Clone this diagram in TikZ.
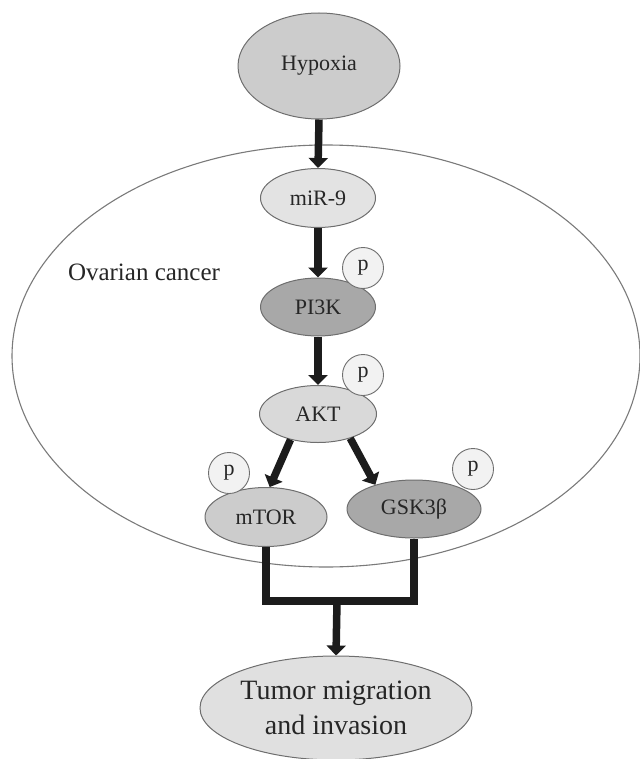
\documentclass[tikz,border=0pt]{standalone}
\usepackage{fontspec}
\setmainfont{Liberation Serif}
\usetikzlibrary{arrows.meta,shapes.geometric}
\definecolor{edgegray}{HTML}{6E6E6E}
\definecolor{cellgray}{HTML}{7A7A7A}
\definecolor{arrowblack}{HTML}{1C1C1C}
\tikzset{
  molecule/.style={ellipse, draw=edgegray, line width=1pt, inner sep=0pt, font=\fontsize{22}{26}\selectfont, text=black!85},
  phos/.style={circle, draw=edgegray, line width=0.9pt, fill=black!5, minimum size=41pt, inner sep=0pt, font=\fontsize{22}{26}\selectfont, text=black!85},
  bigarrow/.style={draw=arrowblack, line width=7.5pt, -{Triangle[length=10pt,width=19pt]}},
  joinline/.style={draw=arrowblack, line width=7.5pt, line join=miter},
}
\begin{document}
\begin{tikzpicture}[x=1pt,y=-1pt]
\useasboundingbox (0,0) rectangle (639,759);
% cell
\node[ellipse, draw=cellgray, line width=1.1pt, minimum width=628pt, minimum height=422pt, inner sep=0pt] (cell) at (326,356) {};
\node[font=\fontsize{25}{29}\selectfont, text=black!85] (celllabel) at (144,272) {Ovarian cancer};
% molecules
\node[molecule, fill=black!20, minimum width=162pt, minimum height=106pt] (hyp) at (319,66) {Hypoxia};
\node[molecule, fill=black!11, minimum width=115pt, minimum height=59pt] (mir) at (318,198) {miR-9};
\node[molecule, fill=black!34, minimum width=115pt, minimum height=58pt] (pik) at (318,307) {PI3K};
\node[molecule, fill=black!15, minimum width=117pt, minimum height=57pt] (akt) at (318,414) {AKT};
\node[molecule, fill=black!20, minimum width=122pt, minimum height=59pt] (mtor) at (266,517) {mTOR};
\node[molecule, fill=black!34, minimum width=134pt, minimum height=58pt] (gsk) at (414,509) {GSK3β};
\node[molecule, fill=black!12, minimum width=272pt, minimum height=104pt, align=center, font=\fontsize{28}{35}\selectfont] (tumor) at (336,708) {Tumor migration\\and invasion};
% phosphorylation marks
\node[phos] (p1) at (363,268) {p};
\node[phos] (p2) at (363,375) {p};
\node[phos] (p3) at (229,473) {p};
\node[phos] (p4) at (473,469) {p};
% arrows
\draw[bigarrow] (hyp.south) -- (mir.north);
\draw[bigarrow] (mir.south) -- (pik.north);
\draw[bigarrow] (pik.south) -- (akt.north);
\draw[bigarrow] (akt.-137) -- (mtor.83);
\draw[bigarrow] (akt.-37) -- (gsk.148);
\coordinate (join) at (337,601);
\draw[joinline] (mtor.south) |- (join) -| (gsk.south);
\draw[bigarrow] (join) -- (tumor.north);
\end{tikzpicture}
\end{document}
